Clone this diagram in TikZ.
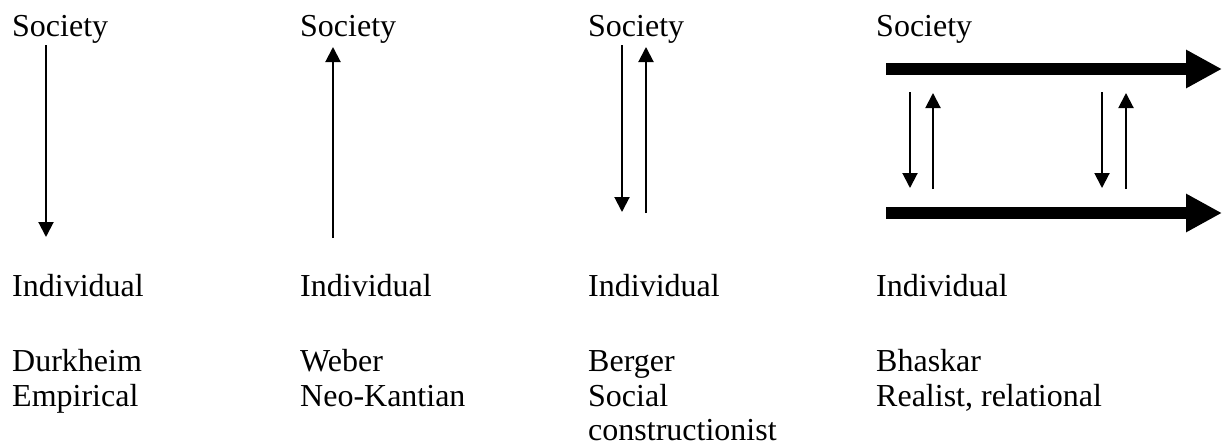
\documentclass[tikz,border=0pt]{standalone}
\usepackage{fontspec}
\setmainfont{Liberation Serif}
\usetikzlibrary{arrows.meta}
\begin{document}
\begin{tikzpicture}[x=1pt,y=1pt,
  lbl/.style={inner sep=0pt,anchor=base west,font=\fontsize{32}{35}\selectfont},
  thin/.style={line width=2pt,-{Triangle[length=15pt,width=15pt]}},
  thick/.style={line width=12pt,-{Triangle[length=36pt,width=36pt]}}]
\useasboundingbox (0,0) rectangle (1223,-447);
% column 1
\node[lbl] (s1) at (12,-36.5) {Society};
\node[lbl] (i1) at (12,-296.5) {Individual};
\node[lbl] (a1) at (12,-371.5) {Durkheim};
\node[lbl] (b1) at (12,-406) {Empirical};
\coordinate (d1s) at (46,-45);
\coordinate (d1e) at (46,-237);
\draw[thin] (d1s) -- (d1e);
% column 2
\node[lbl] (s2) at (300,-36.5) {Society};
\node[lbl] (i2) at (300,-296.5) {Individual};
\node[lbl] (a2) at (300,-371.5) {Weber};
\node[lbl] (b2) at (300,-406) {Neo-Kantian};
\coordinate (u2s) at (333,-238);
\coordinate (u2e) at (333,-47);
\draw[thin] (u2s) -- (u2e);
% column 3
\node[lbl] (s3) at (588,-36.5) {Society};
\node[lbl] (i3) at (588,-296.5) {Individual};
\node[lbl] (a3) at (588,-371.5) {Berger};
\node[lbl] (b3) at (588,-406) {Social};
\node[lbl] (c3) at (588,-440.5) {constructionist};
\coordinate (d3s) at (622,-45);
\coordinate (d3e) at (622,-212);
\coordinate (u3s) at (646,-213);
\coordinate (u3e) at (646,-47);
\draw[thin] (d3s) -- (d3e);
\draw[thin] (u3s) -- (u3e);
% column 4
\node[lbl] (s4) at (876,-36.5) {Society};
\node[lbl] (i4) at (876,-296.5) {Individual};
\node[lbl] (a4) at (876,-371.5) {Bhaskar};
\node[lbl] (b4) at (876,-406) {Realist, relational};
\coordinate (t4s) at (886,-69);
\coordinate (t4e) at (1222,-69);
\coordinate (l4s) at (886,-213);
\coordinate (l4e) at (1222,-213);
\draw[thick] (t4s) -- (t4e);
\draw[thick] (l4s) -- (l4e);
\coordinate (p1s) at (910,-92);
\coordinate (p1e) at (910,-188);
\coordinate (q1s) at (933,-189);
\coordinate (q1e) at (933,-93);
\coordinate (p2s) at (1102,-92);
\coordinate (p2e) at (1102,-188);
\coordinate (q2s) at (1126,-189);
\coordinate (q2e) at (1126,-93);
\draw[thin] (p1s) -- (p1e);
\draw[thin] (q1s) -- (q1e);
\draw[thin] (p2s) -- (p2e);
\draw[thin] (q2s) -- (q2e);
\end{tikzpicture}
\end{document}
